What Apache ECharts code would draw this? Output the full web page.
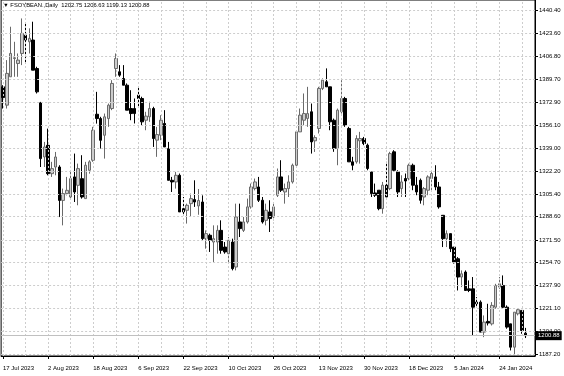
<!DOCTYPE html>
<html><head><meta charset="utf-8">
<script src="https://cdn.jsdelivr.net/npm/echarts@6/dist/echarts.min.js"></script>
<style>html,body{margin:0;padding:0;background:#fff}#c{width:564px;height:376px}</style>
</head><body><div id="c"></div><script>
const dates = [
'17 Jul 2023','18 Jul 2023','19 Jul 2023','20 Jul 2023','21 Jul 2023','24 Jul 2023','25 Jul 2023','26 Jul 2023','27 Jul 2023','28 Jul 2023','31 Jul 2023',
'1 Aug 2023','2 Aug 2023','3 Aug 2023','4 Aug 2023','7 Aug 2023','8 Aug 2023','9 Aug 2023','10 Aug 2023','11 Aug 2023','14 Aug 2023','15 Aug 2023','16 Aug 2023','17 Aug 2023','18 Aug 2023','21 Aug 2023','22 Aug 2023','23 Aug 2023','24 Aug 2023','25 Aug 2023','28 Aug 2023','29 Aug 2023','30 Aug 2023','31 Aug 2023',
'1 Sep 2023','5 Sep 2023','6 Sep 2023','7 Sep 2023','8 Sep 2023','11 Sep 2023','12 Sep 2023','13 Sep 2023','14 Sep 2023','15 Sep 2023','18 Sep 2023','19 Sep 2023','20 Sep 2023','21 Sep 2023','22 Sep 2023','25 Sep 2023','26 Sep 2023','27 Sep 2023','28 Sep 2023','29 Sep 2023',
'2 Oct 2023','3 Oct 2023','4 Oct 2023','5 Oct 2023','6 Oct 2023','9 Oct 2023','10 Oct 2023','11 Oct 2023','12 Oct 2023','13 Oct 2023','16 Oct 2023','17 Oct 2023','18 Oct 2023','19 Oct 2023','20 Oct 2023','23 Oct 2023','24 Oct 2023','25 Oct 2023','26 Oct 2023','27 Oct 2023','30 Oct 2023','31 Oct 2023',
'1 Nov 2023','2 Nov 2023','3 Nov 2023','6 Nov 2023','7 Nov 2023','8 Nov 2023','9 Nov 2023','10 Nov 2023','13 Nov 2023','14 Nov 2023','15 Nov 2023','16 Nov 2023','17 Nov 2023','20 Nov 2023','21 Nov 2023','22 Nov 2023','24 Nov 2023','27 Nov 2023','28 Nov 2023','29 Nov 2023','30 Nov 2023',
'1 Dec 2023','4 Dec 2023','5 Dec 2023','6 Dec 2023','7 Dec 2023','8 Dec 2023','11 Dec 2023','12 Dec 2023','13 Dec 2023','14 Dec 2023','15 Dec 2023','18 Dec 2023','19 Dec 2023','20 Dec 2023','21 Dec 2023','22 Dec 2023','26 Dec 2023','27 Dec 2023','28 Dec 2023','29 Dec 2023',
'2 Jan 2024','3 Jan 2024','4 Jan 2024','5 Jan 2024','8 Jan 2024','9 Jan 2024','10 Jan 2024','11 Jan 2024','12 Jan 2024','16 Jan 2024','17 Jan 2024','18 Jan 2024','19 Jan 2024','22 Jan 2024','23 Jan 2024','24 Jan 2024','25 Jan 2024','26 Jan 2024','29 Jan 2024','30 Jan 2024','31 Jan 2024',
'1 Feb 2024','2 Feb 2024'
];
const opens = [
1384.3,1370.8,1391.7,1405.2,1401.5,1408.9,1422.4,1417.5,1418.8,1397.8,
1372.5,1332.6,1341.2,1320.3,1325.2,1325.2,1300.6,1305.6,1303.1,1317.9,
1311.7,1316.6,1301.9,1322.8,1330.2,1364.1,1360.9,1348.6,1360.9,1368.3,
1397.8,1395.4,1390.4,1385.5,1368.3,1368.3,1378.2,1375.7,1359.7,1362.2,
1368.3,1345.0,1348.6,1357.3,1338.8,1315.4,1314.2,1319.1,1294.5,1293.3,
1298.2,1301.2,1296.5,1299.4,1272.4,1274.9,1269.9,1269.9,1278.5,1266.2,
1261.3,1269.9,1251.5,1284.7,1278.5,1284.7,1295.8,1309.3,1310.5,1300.7,
1285.9,1292.1,1288.4,1304.4,1317.9,1306.8,1309.3,1314.2,1326.5,1351.1,
1359.7,1361.0,1365.9,1344.5,1353.6,1383.1,1388.0,1384.3,1359.7,1338.8,
1365.9,1375.7,1353.6,1329.0,1329.0,1344.5,1346.2,1341.3,1321.6,1306.1,
1308.1,1294.5,1311.8,1309.3,1336.4,1321.6,1309.3,1316.7,1316.7,1326.5,
1311.8,1315.4,1303.1,1308.1,1316.7,1317.9,1310.5,1289.6,1272.4,1276.1,
1266.2,1257.6,1244.1,1247.8,1235.4,1235.4,1225.6,1225.6,1203.5,1211.4,
1209.6,1221.9,1236.7,1237.9,1221.9,1209.6,1192.4,1217.0,1219.5,1202.75
];
const highs = [
1385.5,1404.0,1428.6,1417.5,1408.9,1434.7,1431.1,1427.4,1432.3,1399.1,
1373.2,1343.7,1353.5,1329.0,1336.3,1326.5,1309.3,1317.9,1321.6,1335.1,
1327.7,1333.9,1329.0,1330.2,1354.8,1380.6,1362.2,1364.6,1372.0,1389.2,
1408.9,1400.3,1400.3,1386.8,1381.8,1375.7,1384.3,1377.0,1365.9,1373.3,
1369.6,1354.8,1363.4,1367.1,1343.7,1317.9,1321.6,1320.4,1303.1,1298.2,
1305.6,1315.4,1309.0,1304.3,1278.5,1276.1,1282.2,1282.2,1285.9,1269.9,
1273.6,1272.4,1298.2,1298.2,1288.4,1301.9,1313.0,1316.7,1317.9,1303.1,
1298.2,1300.7,1298.2,1324.1,1330.2,1313.0,1319.1,1327.7,1352.3,1368.3,
1379.4,1384.3,1372.0,1348.6,1384.3,1390.5,1397.9,1384.3,1360.9,1368.3,
1389.2,1376.9,1354.8,1332.7,1348.6,1351.1,1347.4,1342.5,1321.6,1313.0,
1308.1,1314.2,1329.0,1336.4,1337.6,1322.8,1319.1,1320.4,1327.7,1327.7,
1317.9,1316.7,1310.5,1319.1,1321.6,1326.5,1314.2,1289.6,1278.5,1276.1,
1266.2,1258.8,1249.0,1249.0,1241.6,1244.1,1229.3,1226.9,1215.8,1224.4,
1225.6,1239.1,1244.1,1245.3,1223.2,1209.6,1218.2,1220.7,1219.5,1206.63
];
const lows = [
1368.3,1368.3,1391.7,1391.7,1391.7,1400.3,1401.5,1408.9,1396.6,1379.4,
1325.2,1325.2,1319.1,1317.9,1319.1,1288.3,1282.2,1304.3,1301.9,1299.4,
1297.0,1301.9,1301.9,1320.3,1329.0,1357.2,1338.8,1331.4,1354.8,1367.1,
1391.7,1391.7,1385.5,1367.1,1359.7,1357.3,1369.6,1356.0,1352.3,1358.5,
1340.0,1332.7,1345.0,1340.0,1315.4,1306.8,1309.3,1292.1,1290.5,1283.5,
1288.4,1295.8,1290.0,1271.2,1265.0,1262.6,1255.2,1261.3,1261.3,1261.3,
1255.2,1249.0,1249.0,1273.6,1277.3,1283.5,1294.5,1308.0,1299.4,1283.5,
1282.2,1277.3,1285.9,1303.1,1306.8,1298.2,1303.1,1313.0,1325.3,1351.1,
1356.0,1354.8,1335.1,1336.3,1349.9,1381.9,1384.3,1352.3,1336.4,1326.5,
1364.6,1354.8,1329.0,1322.8,1327.7,1327.7,1341.3,1322.8,1303.1,1303.1,
1293.3,1290.8,1303.1,1308.1,1321.6,1303.1,1303.1,1303.1,1315.4,1308.1,
1304.4,1298.2,1297.0,1304.4,1308.1,1308.1,1294.5,1266.2,1266.2,1262.5,
1254.0,1234.2,1236.7,1234.2,1233.0,1201.0,1221.9,1203.5,1199.8,1208.4,
1208.4,1220.7,1235.4,1220.7,1206.0,1190.0,1186.3,1215.8,1202.3,1199.13
];
const closes = [
1376.4,1394.2,1408.9,1405.7,1404.0,1423.7,1418.8,1420.0,1396.6,1380.6,
1331.4,1340.0,1320.3,1324.0,1332.6,1300.6,1305.6,1308.0,1316.6,1306.8,
1324.0,1303.1,1326.5,1329.0,1352.3,1360.9,1344.9,1362.2,1370.8,1386.8,
1405.2,1392.9,1385.5,1367.1,1364.6,1364.6,1375.7,1358.5,1362.7,1368.3,
1346.2,1349.1,1359.7,1340.0,1315.4,1314.2,1319.1,1292.1,1292.1,1297.0,
1301.9,1299.4,1300.5,1272.4,1276.1,1271.2,1272.4,1278.5,1263.8,1262.6,
1271.2,1250.3,1288.4,1279.8,1284.7,1295.8,1310.5,1314.2,1300.7,1284.7,
1293.3,1287.2,1295.8,1317.9,1308.1,1309.3,1314.2,1326.5,1351.1,1363.4,
1364.6,1364.6,1343.7,1346.9,1383.1,1389.2,1384.3,1358.5,1338.8,1367.1,
1375.7,1356.0,1329.0,1326.5,1346.2,1346.2,1342.5,1324.1,1305.6,1304.4,
1294.5,1311.8,1303.1,1335.1,1322.8,1306.8,1314.2,1314.9,1326.5,1311.8,
1306.8,1300.7,1309.3,1317.9,1320.4,1310.5,1295.8,1272.4,1276.1,1265.0,
1255.2,1244.1,1246.5,1234.2,1234.2,1221.9,1224.4,1203.5,1210.9,1210.2,
1223.2,1237.9,1239.1,1221.9,1207.2,1192.4,1218.2,1220.0,1204.7,1200.88
];
const priceTicks = [1187.20,1204.00,1221.10,1237.90,1254.70,1271.50,1288.60,1305.40,1322.20,1339.00,1356.10,1372.90,1389.70,1406.80,1423.60,1440.40];
const symbolName = 'FSOYBEAN.,Daily';
const dateLabelEvery = 12;
const gridEvery = 6;
const emptyBars = 2;

const categories = dates.concat(Array(emptyBars).fill(''));
const candleData = opens.map((o, i) => [o, closes[i], lows[i], highs[i]]);
const last = opens.length - 1;
const lastClose = closes[last];
const titleText = '\u25BC ' + symbolName + '  ' + [opens[last], highs[last], lows[last], closes[last]].map(v => v.toFixed(2)).join(' ');
const vGrid = [];
for (let i = 0; i < categories.length; i += gridEvery) vGrid.push({ xAxis: i });
const font = 'Liberation Sans';
const gridStyle = { color: '#cdcdcd', width: 1, type: [2, 2] };

const chart = echarts.init(document.getElementById('c'), null, { renderer: 'canvas' });
chart.setOption({
  animation: false,
  backgroundColor: '#ffffff',
  title: {
    text: titleText, left: 3, top: 2, padding: 0,
    textStyle: { fontSize: 5.8, fontWeight: 'normal', color: '#000', fontFamily: font }
  },
  grid: { left: 0, top: 0, right: 29, bottom: 20, show: true, borderColor: '#000', borderWidth: 1, backgroundColor: 'transparent' },
  xAxis: {
    type: 'category', data: categories, boundaryGap: true,
    axisLine: { show: true, lineStyle: { color: '#000', width: 1 } },
    axisTick: { show: true, alignWithLabel: true, length: 3, interval: (i) => i % dateLabelEvery === 0, lineStyle: { color: '#000' } },
    axisLabel: { show: true, interval: (i) => i % dateLabelEvery === 0, align: 'left', margin: 9, fontSize: 6, color: '#000', fontFamily: font, hideOverlap: false },
    splitLine: { show: false }
  },
  yAxis: {
    type: 'value', position: 'right', min: 1185.9, max: 1448.3, scale: true,
    axisLine: { show: true, lineStyle: { color: '#000', width: 1 } },
    axisTick: { show: true, length: 3, customValues: priceTicks, lineStyle: { color: '#000' } },
    axisLabel: { show: true, customValues: priceTicks, formatter: (v) => Number(v).toFixed(2), margin: 4, fontSize: 6, color: '#000', fontFamily: font },
    splitLine: { show: false }
  },
  series: [
    {
      type: 'line', data: [], z: 1, silent: true,
      markLine: {
        silent: true, symbol: 'none', animation: false,
        label: { show: false },
        lineStyle: gridStyle,
        data: priceTicks.map(v => ({ yAxis: v })).concat(vGrid)
      }
    },
    {
      type: 'line', data: [], z: 1, silent: true,
      markLine: {
        silent: true, symbol: 'none', animation: false,
        lineStyle: { color: '#c0c0c0', width: 1, type: 'solid' },
        label: {
          show: true, position: 'end', distance: 1,
          formatter: () => lastClose.toFixed(2),
          backgroundColor: '#000', color: '#fff', padding: [2, 2, 1, 2],
          fontSize: 6, fontFamily: font
        },
        data: [{ yAxis: lastClose }]
      }
    },
    {
      type: 'candlestick', data: candleData, z: 3, barWidth: 3,
      itemStyle: { color: '#cccccc', color0: '#000000', borderColor: '#6a6a6a', borderColor0: '#000000', borderWidth: 1 }
    }
  ]
});
</script></body></html>
